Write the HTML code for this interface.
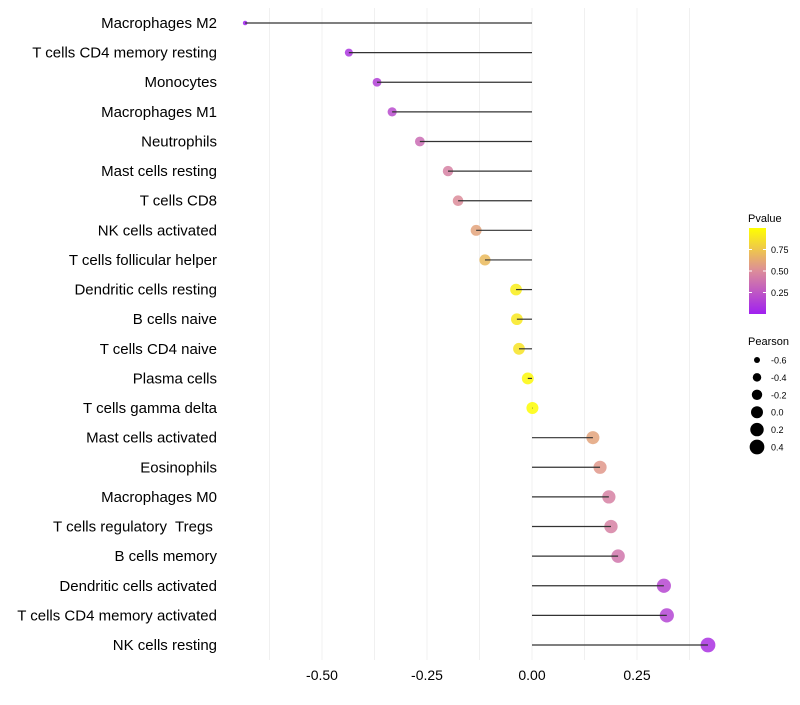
<!DOCTYPE html>
<html><head><meta charset="utf-8"><style>
body{margin:0;background:#fff;font-family:"Liberation Sans",sans-serif}
svg text{font-family:"Liberation Sans",sans-serif;white-space:pre}
</style></head><body>
<svg id="chart" width="800" height="700"></svg>
<script>
const categories=["Macrophages M2","T cells CD4 memory resting","Monocytes","Macrophages M1","Neutrophils","Mast cells resting","T cells CD8","NK cells activated","T cells follicular helper","Dendritic cells resting","B cells naive","T cells CD4 naive","Plasma cells","T cells gamma delta","Mast cells activated","Eosinophils","Macrophages M0","T cells regulatory  Tregs ","B cells memory","Dendritic cells activated","T cells CD4 memory activated","NK cells resting"];
const pearson=[-0.683,-0.436,-0.369,-0.333,-0.267,-0.2,-0.176,-0.133,-0.112,-0.038,-0.036,-0.031,-0.01,0.001,0.145,0.162,0.183,0.188,0.205,0.314,0.321,0.419];
const pvalue=[0.0,0.1,0.15,0.2,0.35,0.45,0.5,0.6,0.7,0.92,0.9,0.88,0.97,0.99,0.6,0.55,0.45,0.45,0.4,0.18,0.17,0.08];
const xTicks=[-0.5,-0.25,0,0.25];
const xTickLabels=["-0.50","-0.25","0.00","0.25"];
const gridVals=[-0.625,-0.5,-0.375,-0.25,-0.125,0,0.125,0.25,0.375];
const legendP=[0.25,0.5,0.75];
const legendSizes=[-0.6,-0.4,-0.2,0.0,0.2,0.4];
const legendSizeLabels=["-0.6","-0.4","-0.2","0.0","0.2","0.4"];

const NS="http://www.w3.org/2000/svg";
const svg=document.getElementById('chart');
const x=v=>532+v*420;
const y=i=>23+i*(622/21);
const rad=p=>Math.sqrt(Math.max(36+45*p,4));
function lerp(a,b,t){return a.map((v,k)=>Math.round(v+(b[k]-v)*t));}
function col(p){const s=[[160,32,240],[220,140,154],[255,255,0]];
 const c=p<0.5?lerp(s[0],s[1],p/0.5):lerp(s[1],s[2],(p-0.5)/0.5);return `rgb(${c})`;}
function mk(tag,attrs,parent){const e=document.createElementNS(NS,tag);for(const k in attrs)e.setAttribute(k,attrs[k]);(parent||svg).appendChild(e);return e;}

gridVals.forEach(v=>{const l=mk('line',{x1:x(v),x2:x(v),y1:8,y2:660,stroke:'#f0f0f0','stroke-width':1});

});
xTicks.forEach((v,i)=>{const t=mk('text',{x:x(v),y:680,'text-anchor':'middle','font-size':14,fill:'#000'});t.textContent=xTickLabels[i];

});
categories.forEach((c,i)=>{
 const t=mk('text',{x:217,y:y(i)+5,'text-anchor':'end','font-size':15,fill:'#000'});t.textContent=c;
 
 
 const d=mk('circle',{cx:x(pearson[i]),cy:y(i),r:rad(pearson[i]),fill:col(pvalue[i]),'fill-opacity':0.85});
 
 
 const l=mk('line',{x1:x(0),x2:x(pearson[i]),y1:y(i),y2:y(i),stroke:'#333','stroke-width':1.2});
 
 
});
const lt=mk('text',{x:748,y:222,'font-size':11});lt.textContent='Pvalue';


const defs=mk('defs',{});const g=mk('linearGradient',{id:'pg',x1:0,y1:1,x2:0,y2:0},defs);
[0,0.25,0.5,0.75,1].forEach(s=>mk('stop',{offset:s,'stop-color':col(s)},g));
const bar=mk('rect',{x:749,y:228,width:17,height:86,fill:'url(#pg)'});


legendP.forEach(p=>{const yy=314-p*86;
 mk('line',{x1:749,x2:752,y1:yy,y2:yy,stroke:'#fff'});mk('line',{x1:763,x2:766,y1:yy,y2:yy,stroke:'#fff'});
 const t=mk('text',{x:771,y:yy+3.5,'font-size':9});t.textContent=p.toFixed(2);
 
 });
const st=mk('text',{x:748,y:345,'font-size':11});st.textContent='Pearson';


legendSizes.forEach((p,i)=>{const yy=360+i*17.4;
 const c=mk('circle',{cx:757,cy:yy,r:rad(p),fill:'#000'});
 
 
 const t=mk('text',{x:771,y:yy+3.5,'font-size':9});t.textContent=legendSizeLabels[i];
 
 });
</script>
</body></html>
